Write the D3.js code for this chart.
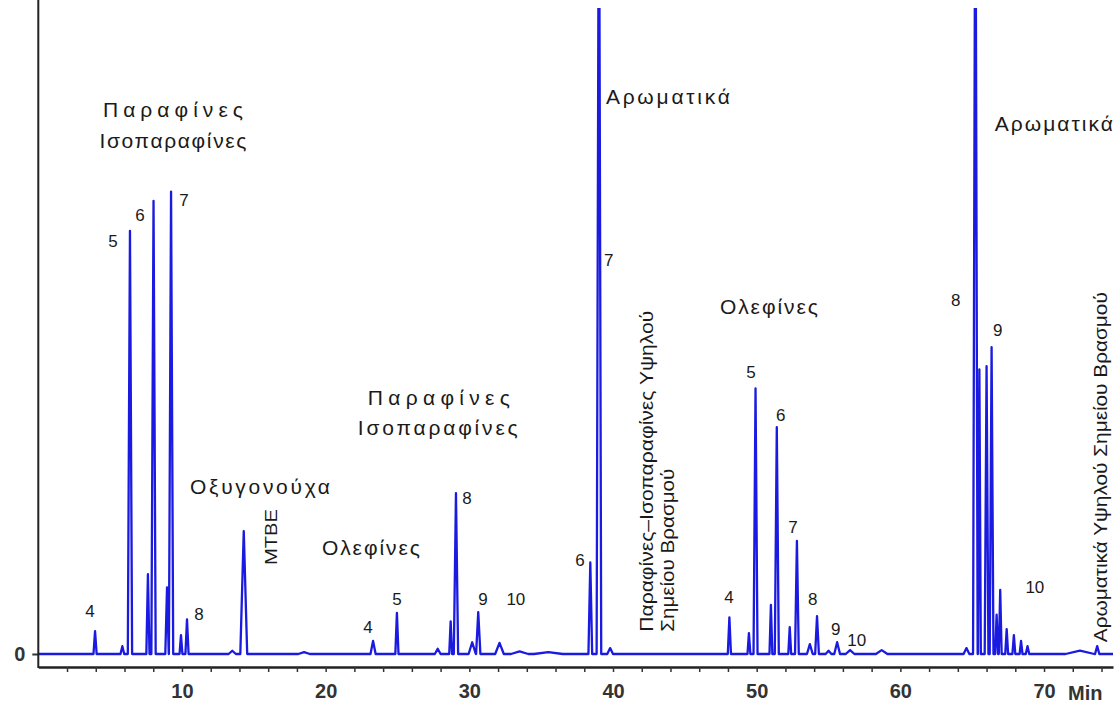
<!DOCTYPE html>
<html>
<head>
<meta charset="utf-8">
<script src="https://cdn.jsdelivr.net/npm/d3@7/dist/d3.min.js"></script>
<style>
  html, body { margin: 0; padding: 0; background: #ffffff; }
  svg { display: block; }
</style>
</head>
<body>
<svg id="chart" width="1116" height="706"></svg>
<script>
// ---- Data (retention time in min, relative response) ----
const peakTimes   = [3.95, 5.85, 6.38, 7.63, 8.02, 8.96, 9.24, 9.93, 10.35, 13.5, 14.3, 18.5,
                     23.3, 24.96, 27.8, 28.7, 29.07, 30.2, 30.62, 32.1, 33.5, 35.5,
                     38.42, 39.02, 39.8,
                     48.1, 49.46, 49.92, 50.99, 51.4, 52.3, 52.8, 53.7, 54.2, 55.0, 55.6, 56.5, 58.7,
                     64.6, 65.22, 65.5, 66.0, 66.35, 66.7, 66.95, 67.4, 67.9, 68.4, 68.85, 72.5, 73.7];
const peakHeights = [3.5, 1.2, 64.7, 12.2, 69.3, 10.2, 70.7, 2.9, 5.3, 0.5, 18.8, 0.3,
                     2.0, 6.3, 0.8, 5.0, 24.6, 1.8, 6.4, 1.7, 0.4, 0.3,
                     14.0, 130, 0.9,
                     5.6, 3.2, 40.6, 7.5, 34.7, 4.1, 17.3, 1.5, 5.8, 0.5, 1.8, 0.6, 0.6,
                     0.9, 130, 43.5, 44.0, 46.9, 6.0, 9.8, 3.8, 2.9, 2.0, 1.2, 0.5, 1.2];
const peakHalfWidths = [0.11, 0.13, 0.15, 0.11, 0.15, 0.12, 0.15, 0.1, 0.11, 0.25, 0.24, 0.4,
                     0.18, 0.11, 0.2, 0.1, 0.15, 0.25, 0.15, 0.3, 0.6, 1.0,
                     0.13, 0.16, 0.2,
                     0.11, 0.1, 0.14, 0.1, 0.14, 0.1, 0.13, 0.2, 0.13, 0.2, 0.2, 0.3, 0.4,
                     0.2, 0.16, 0.1, 0.13, 0.13, 0.1, 0.1, 0.1, 0.1, 0.1, 0.12, 1.0, 0.15];

// Peak number labels: text, time, response
const numLabels = ["4","5","6","7","8","4","5","8","9","10","6","7","4","5","6","7","8","9","10","8","9","10"];
const numLabelT = [3.6, 5.2, 7.08, 10.14, 11.18, 22.94, 24.96, 29.83, 30.95, 33.24, 37.7, 39.71,
                   48.07, 49.6, 51.68, 52.52, 53.9, 55.5, 56.97, 63.86, 66.78, 69.36];
const numLabelV = [6.6, 63.2, 67.2, 69.5, 6.1, 4.1, 8.5, 23.8, 8.5, 8.4, 14.4, 60.3,
                   8.7, 43.2, 36.6, 19.5, 8.5, 3.8, 2.1, 54.2, 49.6, 10.2];

// Group labels: text, time, response
const groupLabels = ["Παραφίνες", "Ισοπαραφίνες", "Οξυγονούχα", "Ολεφίνες", "Παραφίνες", "Ισοπαραφίνες",
                     "Αρωματικά", "Ολεφίνες", "Αρωματικά"];
const groupLabelT = [9.37, 9.37, 15.43, 23.15, 27.88, 27.8, 43.82, 50.85, 70.68];
const groupLabelV = [83.2, 78.5, 25.6, 16.3, 39.2, 34.7, 85.3, 53.1, 81.1];

// Vertical labels: text, time, response at the start of the text
const vertLabels = ["MTBE", "Παραφίνες–Ισοπαραφίνες Υψηλού", "Σημείου Βρασμού", "Αρωματικά Υψηλού Σημείου Βρασμού"];
const vertLabelT = [16.19, 42.36, 43.82, 73.9];
const vertLabelV = [13.6, 3.4, 3.4, 1.8];

const xTickValues = [2,4,6,8,10,12,14,16,18,20,22,24,26,28,30,32,34,36,38,40,42,44,46,48,50,52,54,56,58,60,62,64,66,68,70,72,74];
const xTickLabels = [10, 20, 30, 40, 50, 60, 70];
const xUnit = "Min";
const yTickValues = [0];

// ---- Layout ----
const svg = d3.select("#chart");
const x = d3.scaleLinear().domain([0, 74.8]).range([38.3, 1113]);
const y = d3.scaleLinear().domain([0, 100]).range([654, 0]);
const axisY = 667;

// build trace as sum of triangular peaks evaluated at every breakpoint
const bps = new Set([0, 74.8]);
peakTimes.forEach((t, i) => { bps.add(t - peakHalfWidths[i]); bps.add(t); bps.add(t + peakHalfWidths[i]); });
const ts = Array.from(bps).filter(t => t >= 0 && t <= 74.8).sort((a, b) => a - b);
const trace = ts.map(t => {
  let v = 0;
  peakTimes.forEach((pt, i) => {
    const d = Math.abs(t - pt);
    if (d < peakHalfWidths[i]) v += peakHeights[i] * (1 - d / peakHalfWidths[i]);
  });
  return [t, v];
});

svg.append("defs").append("clipPath").attr("id", "plotclip")
  .append("rect").attr("x", 38).attr("y", 8).attr("width", 1080).attr("height", 660);

svg.append("path")
  .datum(trace)
  .attr("clip-path", "url(#plotclip)")
  .attr("fill", "none")
  .attr("stroke", "#1a1ae0")
  .attr("stroke-width", 2.3)
  .attr("stroke-linejoin", "round")
  .attr("d", d3.line().x(d => x(d[0])).y(d => y(d[1])));

// X axis
const xAxis = d3.axisBottom(x)
  .tickValues(xTickValues)
  .tickSize(5)
  .tickSizeOuter(0)
  .tickPadding(12)
  .tickFormat(d => xTickLabels.includes(d) ? d : "");
const gx = svg.append("g").attr("transform", `translate(0,${axisY})`).call(xAxis);
gx.select(".domain").attr("stroke", "#222").attr("stroke-width", 2.5);
gx.selectAll(".tick line").attr("stroke", "#333").attr("stroke-width", 1.5);
gx.selectAll(".tick text")
  .attr("font-family", "Liberation Sans, Arial, sans-serif")
  .attr("font-size", 20).attr("font-weight", "bold").attr("fill", "#333");
svg.append("text")
  .attr("x", 1068).attr("y", 700)
  .attr("font-family", "Liberation Sans, Arial, sans-serif")
  .attr("font-size", 20).attr("font-weight", "bold").attr("fill", "#333")
  .text(xUnit);

// Y axis
const yAxis = d3.axisLeft(y).tickValues(yTickValues).tickSize(6).tickSizeOuter(0).tickPadding(7).tickFormat(d3.format("d"));
const gy = svg.append("g").attr("transform", `translate(38.3,0)`).call(yAxis);
gy.select(".domain").remove();
gy.selectAll(".tick line").attr("stroke", "#333").attr("stroke-width", 2);
gy.selectAll(".tick text")
  .attr("font-family", "Liberation Sans, Arial, sans-serif")
  .attr("font-size", 20).attr("font-weight", "bold").attr("fill", "#333");
svg.append("line")
  .attr("x1", 38.3).attr("x2", 38.3).attr("y1", 0).attr("y2", axisY + 1)
  .attr("stroke", "#222").attr("stroke-width", 2);

// Number labels
svg.append("g").selectAll("text").data(numLabels).join("text")
  .attr("x", (d, i) => x(numLabelT[i]))
  .attr("y", (d, i) => y(numLabelV[i]))
  .attr("dy", "0.36em")
  .attr("text-anchor", "middle")
  .attr("font-family", "Liberation Sans, Arial, sans-serif")
  .attr("font-size", 17).attr("fill", "#1a1a1a")
  .text(d => d);

// Group labels
const groupWidths = [140, 147, 140, 98, 142, 160, 124, 98, 118];
svg.append("g").selectAll("text").data(groupLabels).join("text")
  .attr("x", (d, i) => x(groupLabelT[i]) - groupWidths[i] / 2)
  .attr("y", (d, i) => y(groupLabelV[i]))
  .attr("dy", "0.36em")
  .attr("textLength", (d, i) => groupWidths[i])
  .attr("lengthAdjust", "spacing")
  .attr("font-family", "Liberation Sans, Arial, sans-serif")
  .attr("font-size", 21).attr("fill", "#1a1a1a")
  .text(d => d);

// Vertical labels
const vertLengths = [56, 321, 163, 350];
const vertSizes = [17, 18, 18, 18];
svg.append("g").selectAll("text").data(vertLabels).join("text")
  .attr("transform", (d, i) => `translate(${x(vertLabelT[i])},${y(vertLabelV[i])}) rotate(-90)`)
  .attr("dy", "0.36em")
  .attr("textLength", (d, i) => vertLengths[i])
  .attr("lengthAdjust", "spacingAndGlyphs")
  .attr("font-family", (d, i) => i === 0 ? "Liberation Sans, Arial, sans-serif" : "Liberation Sans Narrow, Arial Narrow, sans-serif")
  .attr("font-size", (d, i) => vertSizes[i]).attr("fill", "#1a1a1a")
  .text(d => d);
</script>
</body>
</html>
